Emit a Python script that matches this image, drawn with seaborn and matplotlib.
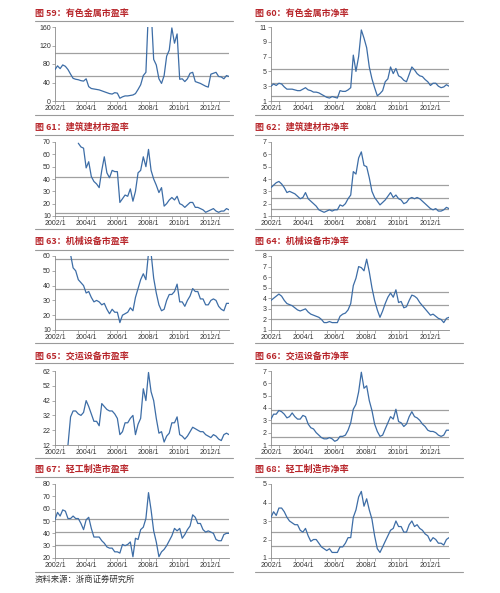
import numpy as np
import pandas as pd
import matplotlib
matplotlib.use('Agg')
import matplotlib.pyplot as plt
import matplotlib.dates as mdates
from matplotlib.lines import Line2D
import seaborn as sns

sns.set_theme(style='white')
plt.rcParams['font.family'] = ['Liberation Sans', 'Noto Sans CJK SC', 'DejaVu Sans']

# DATA (bi-monthly readings, 2002/1 .. 2013/3)
DATES = pd.date_range('2002-01-01', periods=68, freq='2MS')
TICK_DATES = pd.to_datetime(['2002-01-01', '2004-01-01', '2006-01-01',
                             '2008-01-01', '2010-01-01', '2012-01-01'])
TICK_LABELS = ['2002/1', '2004/1', '2006/1', '2008/1', '2010/1', '2012/1']
NA = np.nan

pe_metals = [68, 76, 70, 78, 75, 68, 58, 49, 47, 46, 44, 43,
             48, 31, 27, 26, 25, 24, 22, 20, 18, 16, 15, 18,
             17, 6, 9, 11, 11, 12, 13, 16, 25, 35, 55, 62,
             200, 200, 90, 78, 48, 38, 55, 97, 110, 158, 125, 145,
             47, 48, 42, 48, 60, 62, 42, 40, 38, 35, 32, 30,
             58, 60, 62, 53, 52, 48, 55, 53]
pb_metals = [3.0, 3.3, 3.1, 3.4, 3.3, 2.9, 2.6, 2.6, 2.6, 2.5, 2.4, 2.4,
             2.6, 2.8, 2.5, 2.4, 2.2, 2.2, 2.1, 1.9, 1.7, 1.5, 1.4, 1.6,
             1.5, 1.4, 2.4, 2.3, 2.3, 2.5, 2.8, 7.2, 5.0, 7.0, 10.6, 9.5,
             8.2, 5.6, 4.0, 2.8, 1.7, 2.0, 2.4, 3.6, 4.0, 5.6, 4.7, 5.4,
             4.4, 4.2, 3.8, 3.6, 4.6, 5.6, 5.2, 4.7, 4.4, 4.3, 3.9, 3.6,
             3.1, 3.4, 3.4, 3.0, 2.8, 2.9, 3.2, 3.0]
pe_building = [NA, NA, NA, NA, NA, NA, NA, NA, NA, 69, 66, 65,
               49, 54, 42, 38, 36, 33, 47, 58, 45, 41, 47, 46,
               46, 21, 24, 27, 26, 32, 22, 30, 45, 47, 58, 50,
               64, 47, 40, 35, 29, 33, 18, 20, 23, 25, 23, 26,
               20, 19, 17, 19, 21, 21, 17, 17, 16, 15, 13, 14,
               15, 16, 14, 13, 14, 14, 16, 15]
pb_building = [3.3, 3.5, 3.7, 3.8, 3.6, 3.3, 2.9, 3.0, 2.9, 2.8, 2.6, 2.4,
               2.5, 2.9, 2.4, 2.2, 2.0, 1.8, 1.5, 1.4, 1.3, 1.4, 1.5, 1.4,
               1.5, 1.5, 1.9, 1.8, 2.0, 2.4, 2.7, 4.6, 4.4, 5.7, 6.2, 5.1,
               5.0, 4.1, 3.0, 2.5, 2.2, 1.9, 2.1, 2.3, 2.6, 2.9, 2.5, 2.7,
               2.4, 2.3, 2.0, 2.1, 2.4, 2.5, 2.4, 2.5, 2.4, 2.2, 2.0, 1.8,
               1.6, 1.5, 1.6, 1.4, 1.4, 1.5, 1.7, 1.6]
pe_machinery = [NA, NA, NA, NA, NA, NA, 61, 52, 50, 44, 42, 40,
                35, 36, 32, 29, 30, 29, 27, 28, 24, 21, 24, 22,
                22, 15, 20, 21, 22, 25, 23, 32, 38, 44, 48, 44,
                62, 62, 45, 35, 27, 23, 24, 30, 34, 34, 36, 41,
                29, 29, 26, 30, 33, 38, 36, 36, 31, 31, 27, 27,
                30, 31, 30, 26, 24, 23, 28, 28]
pb_machinery = [3.8, 4.0, 4.2, 4.4, 4.2, 3.8, 3.5, 3.4, 3.3, 3.1, 2.9, 2.8,
                2.9, 3.0, 2.7, 2.5, 2.4, 2.3, 2.2, 2.0, 1.7, 1.7, 1.8, 1.7,
                1.7, 1.7, 2.3, 2.5, 2.6, 2.9, 3.5, 5.2, 5.9, 7.0, 6.9, 6.6,
                7.7, 6.5, 5.0, 3.8, 2.9, 2.2, 2.8, 3.5, 4.1, 4.5, 4.1, 4.8,
                3.6, 3.7, 3.1, 3.2, 3.8, 4.3, 4.2, 4.0, 3.6, 3.3, 3.0, 2.7,
                2.4, 2.5, 2.3, 2.1, 2.0, 1.7, 2.1, 2.2]
pe_transport = [NA, NA, NA, NA, NA, 12, 31, 35, 35, 33, 32, 34,
                42, 38, 33, 28, 28, 25, 40, 38, 36, 35, 35, 33,
                30, 19, 21, 27, 27, 30, 32, 19, 26, 30, 50, 42,
                61, 48, 42, 30, 20, 21, 14, 18, 20, 27, 27, 31,
                19, 18, 16, 18, 21, 24, 23, 22, 21, 21, 19, 18,
                17, 19, 18, 16, 15, 19, 20, 19]
pb_transport = [3.1, 3.5, 3.5, 3.8, 3.7, 3.5, 3.2, 3.3, 3.6, 3.3, 3.1, 3.1,
                3.4, 3.3, 2.7, 2.4, 2.3, 2.0, 1.8, 1.6, 1.5, 1.5, 1.6, 1.5,
                1.3, 1.4, 1.7, 1.7, 1.8, 2.2, 2.8, 3.9, 4.3, 5.3, 6.9, 5.6,
                5.8, 4.6, 3.8, 2.7, 2.1, 1.7, 1.8, 2.3, 2.8, 3.3, 3.1, 3.9,
                2.9, 2.8, 2.5, 2.7, 3.3, 3.7, 3.3, 3.2, 3.0, 2.7, 2.5, 2.2,
                2.1, 2.1, 2.0, 1.8, 1.7, 1.8, 2.2, 2.2]
pe_light = [51, 57, 54, 59, 58, 52, 52, 54, 52, 52, 48, 43,
            51, 53, 44, 37, 37, 37, 34, 32, 29, 28, 28, 25,
            25, 24, 31, 30, 31, 33, 21, 36, 35, 43, 45, 52,
            73, 59, 42, 33, 21, 25, 27, 30, 34, 38, 44, 42,
            44, 36, 39, 43, 46, 55, 53, 48, 48, 43, 41, 42,
            41, 40, 35, 34, 34, 39, 40, 40]
pb_light = [3.2, 3.5, 3.3, 3.7, 3.7, 3.5, 3.2, 3.0, 2.9, 2.8, 2.8, 2.5,
            2.4, 2.6, 2.2, 1.9, 2.0, 2.0, 1.8, 1.6, 1.5, 1.4, 1.5, 1.3,
            1.3, 1.3, 1.6, 1.6, 1.8, 2.1, 2.1, 3.2, 3.6, 4.3, 4.6, 3.8,
            4.2, 3.6, 3.1, 2.2, 1.5, 1.3, 1.6, 1.9, 2.2, 2.5, 2.6, 3.0,
            2.7, 2.7, 2.4, 2.4, 2.8, 3.0, 2.7, 2.8, 2.6, 2.5, 2.3, 2.2,
            1.9, 2.1, 2.0, 1.8, 1.8, 1.7, 2.0, 2.1]

TITLES = ['图 59：有色金属市盈率', '图 60：有色金属市净率',
          '图 61：建筑建材市盈率', '图 62：建筑建材市净率',
          '图 63：机械设备市盈率', '图 64：机械设备市净率',
          '图 65：交运设备市盈率', '图 66：交运设备市净率',
          '图 67：轻工制造市盈率', '图 68：轻工制造市净率']
SERIES = [pe_metals, pb_metals, pe_building, pb_building, pe_machinery,
          pb_machinery, pe_transport, pb_transport, pe_light, pb_light]
YTICKS = [[0, 40, 80, 120, 160], [1, 3, 5, 7, 9, 11],
          [10, 20, 30, 40, 50, 60, 70], [1, 2, 3, 4, 5, 6, 7],
          [10, 20, 30, 40, 50, 60], [1, 2, 3, 4, 5, 6, 7, 8],
          [12, 22, 32, 42, 52, 62], [1, 2, 3, 4, 5, 6, 7],
          [20, 30, 40, 50, 60, 70, 80], [1, 2, 3, 4, 5]]
REF_LINES = [[104.8, 53], [5.26, 3.47, 1.67],
             [41.5, 12.4], [3.48, 2.49, 1.54],
             [58, 37.7, 17.2], [4.61, 3.36, 2.05],
             [], [3.84, 2.76, 1.62],
             [51.8, 41, 30.3], [3.23, 2.42, 1.67]]
SOURCE = '资料来源：浙商证券研究所'

# LAYOUT (pixels)
W, H = 500, 593
COLS = [(55, 229, 35, 233), (271, 449, 255, 463)]   # axes l/r, rule l/r
ROWS = [(13, 21, 27, 101, 115), (127, 135, 142, 216, 229),
        (242, 250, 256, 330, 343), (357, 363, 371, 445, 458),
        (469, 477, 484, 558, 572)]                   # title, rule, top, bottom, rule
TITLE_COLOR = '#B8262B'
LINE_COLOR = '#3D6DA6'
REF_COLOR = '#A0A0A0'
AXIS_COLOR = '#8A8A8A'
CJK = ['Noto Sans CJK SC', 'DejaVu Sans']

fig = plt.figure(figsize=(W / 100, H / 100), dpi=100)
fig.patch.set_facecolor('white')


def fx(px):
    return px / W


def fy(py):
    return 1 - py / H


def hrule(x0, x1, y):
    fig.add_artist(Line2D([fx(x0), fx(x1)], [fy(y), fy(y)], color='#9A9A9A',
                          lw=0.8, transform=fig.transFigure))


for k, values in enumerate(SERIES):
    row, col = divmod(k, 2)
    ax_l, ax_r, r_l, r_r = COLS[col]
    t_y, rule_y, top, bot, brule_y = ROWS[row]

    fig.text(fx(r_l), fy(t_y), TITLES[k], fontsize=6.5, fontweight='bold',
             color=TITLE_COLOR, va='center', ha='left', family=CJK)
    hrule(r_l, r_r, rule_y)
    hrule(r_l, r_r, brule_y)

    ax = fig.add_axes([fx(ax_l), fy(bot), fx(ax_r - ax_l), (bot - top) / H])
    df = pd.DataFrame({'date': DATES, 'value': values})
    for v in REF_LINES[k]:
        ax.axhline(v, color=REF_COLOR, lw=0.9, zorder=1)
    sns.lineplot(data=df, x='date', y='value', ax=ax, color=LINE_COLOR,
                 linewidth=0.9, estimator=None, zorder=3)

    yt = YTICKS[k]
    ax.set_ylim(yt[0], yt[-1])
    ax.set_yticks(yt)
    ax.set_xlim(DATES[0], DATES[-1])
    ax.set_xticks(TICK_DATES)
    ax.set_xticklabels(TICK_LABELS)
    ax.xaxis.set_minor_locator(mdates.MonthLocator(bymonth=[7]))
    ax.set_xlabel('')
    ax.set_ylabel('')
    ax.tick_params(axis='both', which='both', direction='out', length=2,
                   width=0.5, color=AXIS_COLOR, labelsize=5, pad=1,
                   labelcolor='#333333', bottom=True, left=True)
    sns.despine(ax=ax)
    for side in ['left', 'bottom']:
        ax.spines[side].set_color(AXIS_COLOR)
        ax.spines[side].set_linewidth(0.6)
    ax.set_facecolor('white')

fig.text(fx(35), fy(579), SOURCE, fontsize=6, color='#333333',
         va='center', ha='left', family=CJK)

fig.savefig('out.png', dpi=100, facecolor='white')
